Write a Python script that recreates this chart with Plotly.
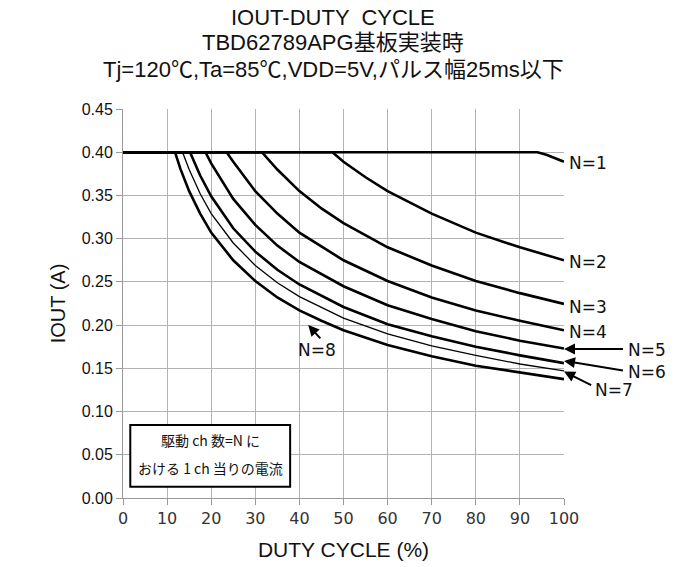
import plotly.graph_objects as go

# ---- data ----
duty_n1 = [0, 94, 96, 98, 100]
iout_n1 = [0.400, 0.400, 0.397, 0.393, 0.389]

duty_n2 = [0, 47.5, 50, 55, 60, 70, 80, 90, 100]
iout_n2 = [0.400, 0.400, 0.389, 0.371, 0.355, 0.329, 0.307, 0.290, 0.275]

duty_n3 = [0, 31.5, 35, 40, 45, 50, 60, 70, 80, 90, 100]
iout_n3 = [0.400, 0.400, 0.380, 0.355, 0.335, 0.318, 0.290, 0.269, 0.251, 0.237, 0.2245]

duty_n4 = [0, 23.5, 25, 30, 35, 40, 50, 60, 70, 80, 90, 100]
iout_n4 = [0.400, 0.400, 0.389, 0.355, 0.329, 0.307, 0.275, 0.251, 0.232, 0.217, 0.205, 0.194]

duty_n5 = [0, 18.7, 20, 25, 30, 35, 40, 50, 60, 70, 80, 90, 100]
iout_n5 = [0.400, 0.400, 0.387, 0.346, 0.316, 0.292, 0.273, 0.245, 0.223, 0.207, 0.193, 0.182, 0.173]

duty_n6 = [0, 15.2, 17.5, 20, 25, 30, 35, 40, 50, 60, 70, 80, 90, 100]
iout_n6 = [0.400, 0.400, 0.373, 0.349, 0.312, 0.285, 0.264, 0.247, 0.221, 0.201, 0.187, 0.175, 0.165, 0.156]

duty_n7 = [0, 13.5, 15, 17.5, 20, 25, 30, 35, 40, 50, 60, 70, 80, 90, 100]
iout_n7 = [0.400, 0.400, 0.380, 0.352, 0.329, 0.295, 0.269, 0.249, 0.233, 0.208, 0.190, 0.176, 0.165, 0.155, 0.147]

duty_n8 = [0, 11.8, 13, 15, 17.5, 20, 25, 30, 35, 40, 45, 50, 60, 70, 80, 90, 100]
iout_n8 = [0.400, 0.400, 0.381, 0.355, 0.329, 0.307, 0.275, 0.251, 0.232, 0.217, 0.205, 0.194, 0.177, 0.164, 0.153, 0.145, 0.1375]

series = [
    ("N=1", duty_n1, iout_n1, 2.6),
    ("N=2", duty_n2, iout_n2, 2.6),
    ("N=3", duty_n3, iout_n3, 2.6),
    ("N=4", duty_n4, iout_n4, 2.6),
    ("N=5", duty_n5, iout_n5, 2.6),
    ("N=6", duty_n6, iout_n6, 2.6),
    ("N=7", duty_n7, iout_n7, 1.3),
    ("N=8", duty_n8, iout_n8, 2.6),
]

x_ticks = [0, 10, 20, 30, 40, 50, 60, 70, 80, 90, 100]
y_ticks = [0.00, 0.05, 0.10, 0.15, 0.20, 0.25, 0.30, 0.35, 0.40, 0.45]

title_lines = ["IOUT-DUTY  CYCLE", "TBD62789APG基板実装時",
               "Tj=120℃,Ta=85℃,VDD=5V,パルス幅25ms以下"]

FONT = "Liberation Sans, Arial, Noto Sans CJK JP, sans-serif"
LBL = "DejaVu Sans, Verdana, sans-serif"

fig = go.Figure()
for name, xs, ys, w in series:
    fig.add_trace(go.Scatter(x=xs, y=ys, mode="lines", name=name,
                             line=dict(color="black", width=w),
                             showlegend=False, hoverinfo="skip"))

W, H = 685, 567
PX0, PX1, PY0, PY1 = 122.7, 564.3, 109.3, 498.0   # plot area on the page
L, T = PX0, PY0
R, B = W - PX1, H - PY1
PW, PH = PX1 - PX0, PY1 - PY0


def px(xp):
    return (xp - PX0) / PW


def py(yp):
    return (PY1 - yp) / PH


annotations = []
# title lines
for txt, ypx in zip(title_lines, [18, 43, 70]):
    annotations.append(dict(text=txt, xref="paper", yref="paper",
                            x=px(333), y=py(ypx),
                            xanchor="center", yanchor="middle", showarrow=False,
                            font=dict(family=FONT, size=22, color="#111")))

# right labels N=1..4
for txt, yv in [("N=1", 0.388), ("N=2", 0.273), ("N=3", 0.2215), ("N=4", 0.1925)]:
    annotations.append(dict(text=txt, x=100, y=yv, xref="x", yref="y",
                            xanchor="left", yanchor="middle", xshift=3,
                            showarrow=False, font=dict(family=LBL, size=17, color="#111")))

# arrow labels: (text, text x px, text y px, head x, head y, tail x, tail y) data units for arrows
arrow_specs = [
    ("N=5", 647, 350, 100, 0.1725, 113.7, 0.1725),
    ("N=6", 647, 372, 100, 0.1586, 113.7, 0.1473),
    ("N=7", 614, 390, 100, 0.1462, 106.5, 0.1296),
    ("N=8", 316.7, 350, 42.0, 0.2002, 45.05, 0.1829),
]
for txt, tx, ty, hx, hy, ax, ay in arrow_specs:
    annotations.append(dict(text="", x=hx, y=hy, ax=ax, ay=ay,
                            xref="x", yref="y", axref="x", ayref="y",
                            showarrow=True, arrowhead=2, arrowsize=1.1,
                            arrowwidth=2, arrowcolor="black"))
    annotations.append(dict(text=txt, x=px(tx), y=py(ty), xref="paper", yref="paper",
                            xanchor="center", yanchor="middle", showarrow=False,
                            font=dict(family=LBL, size=17, color="#111")))

# box text
annotations.append(dict(text="駆動 ch 数=N に", x=19.8, y=0.067, xref="x", yref="y",
                        showarrow=False, font=dict(family="Noto Sans CJK JP", size=14, color="#111")))
annotations.append(dict(text="おける 1 ch 当りの電流", x=19.8, y=0.0347, xref="x", yref="y",
                        showarrow=False, font=dict(family="Noto Sans CJK JP", size=14, color="#111")))

shapes = [dict(type="rect", xref="x", yref="y", x0=1.65, x1=37.9, y0=0.013, y1=0.0845,
               line=dict(color="black", width=2), fillcolor="white", layer="above")]

fig.update_layout(
    width=W, height=H,
    margin=dict(l=L, r=R, t=T, b=B, pad=0, autoexpand=False),
    paper_bgcolor="white", plot_bgcolor="white",
    annotations=annotations, shapes=shapes,
    xaxis=dict(range=[0, 100], tickvals=x_ticks, ticktext=[str(v) for v in x_ticks],
               showgrid=True, gridcolor="#b3b3b3", gridwidth=1,
               showline=True, linecolor="#999999", linewidth=1, mirror=False,
               ticks="outside", ticklen=6, tickcolor="#999999",
               tickfont=dict(family="DejaVu Sans", size=16, color="#333"),
               title=dict(text="DUTY CYCLE (%)", font=dict(family=FONT, size=21, color="#111"),
                          standoff=15),
               zeroline=False, fixedrange=True),
    yaxis=dict(range=[0, 0.45], tickvals=y_ticks, ticktext=[f"{v:.2f}" for v in y_ticks],
               showgrid=True, gridcolor="#b3b3b3", gridwidth=1,
               showline=True, linecolor="#999999", linewidth=1,
               ticks="outside", ticklen=6, tickcolor="#999999",
               tickfont=dict(family=FONT, size=16, color="#111"),
               title=dict(text="IOUT (A)", font=dict(family=FONT, size=20, color="#111"),
                          standoff=10),
               zeroline=False, fixedrange=True),
)

fig.write_html("out.html", config={"displayModeBar": False, "staticPlot": True},
               post_script="document.body.style.margin='0';")
